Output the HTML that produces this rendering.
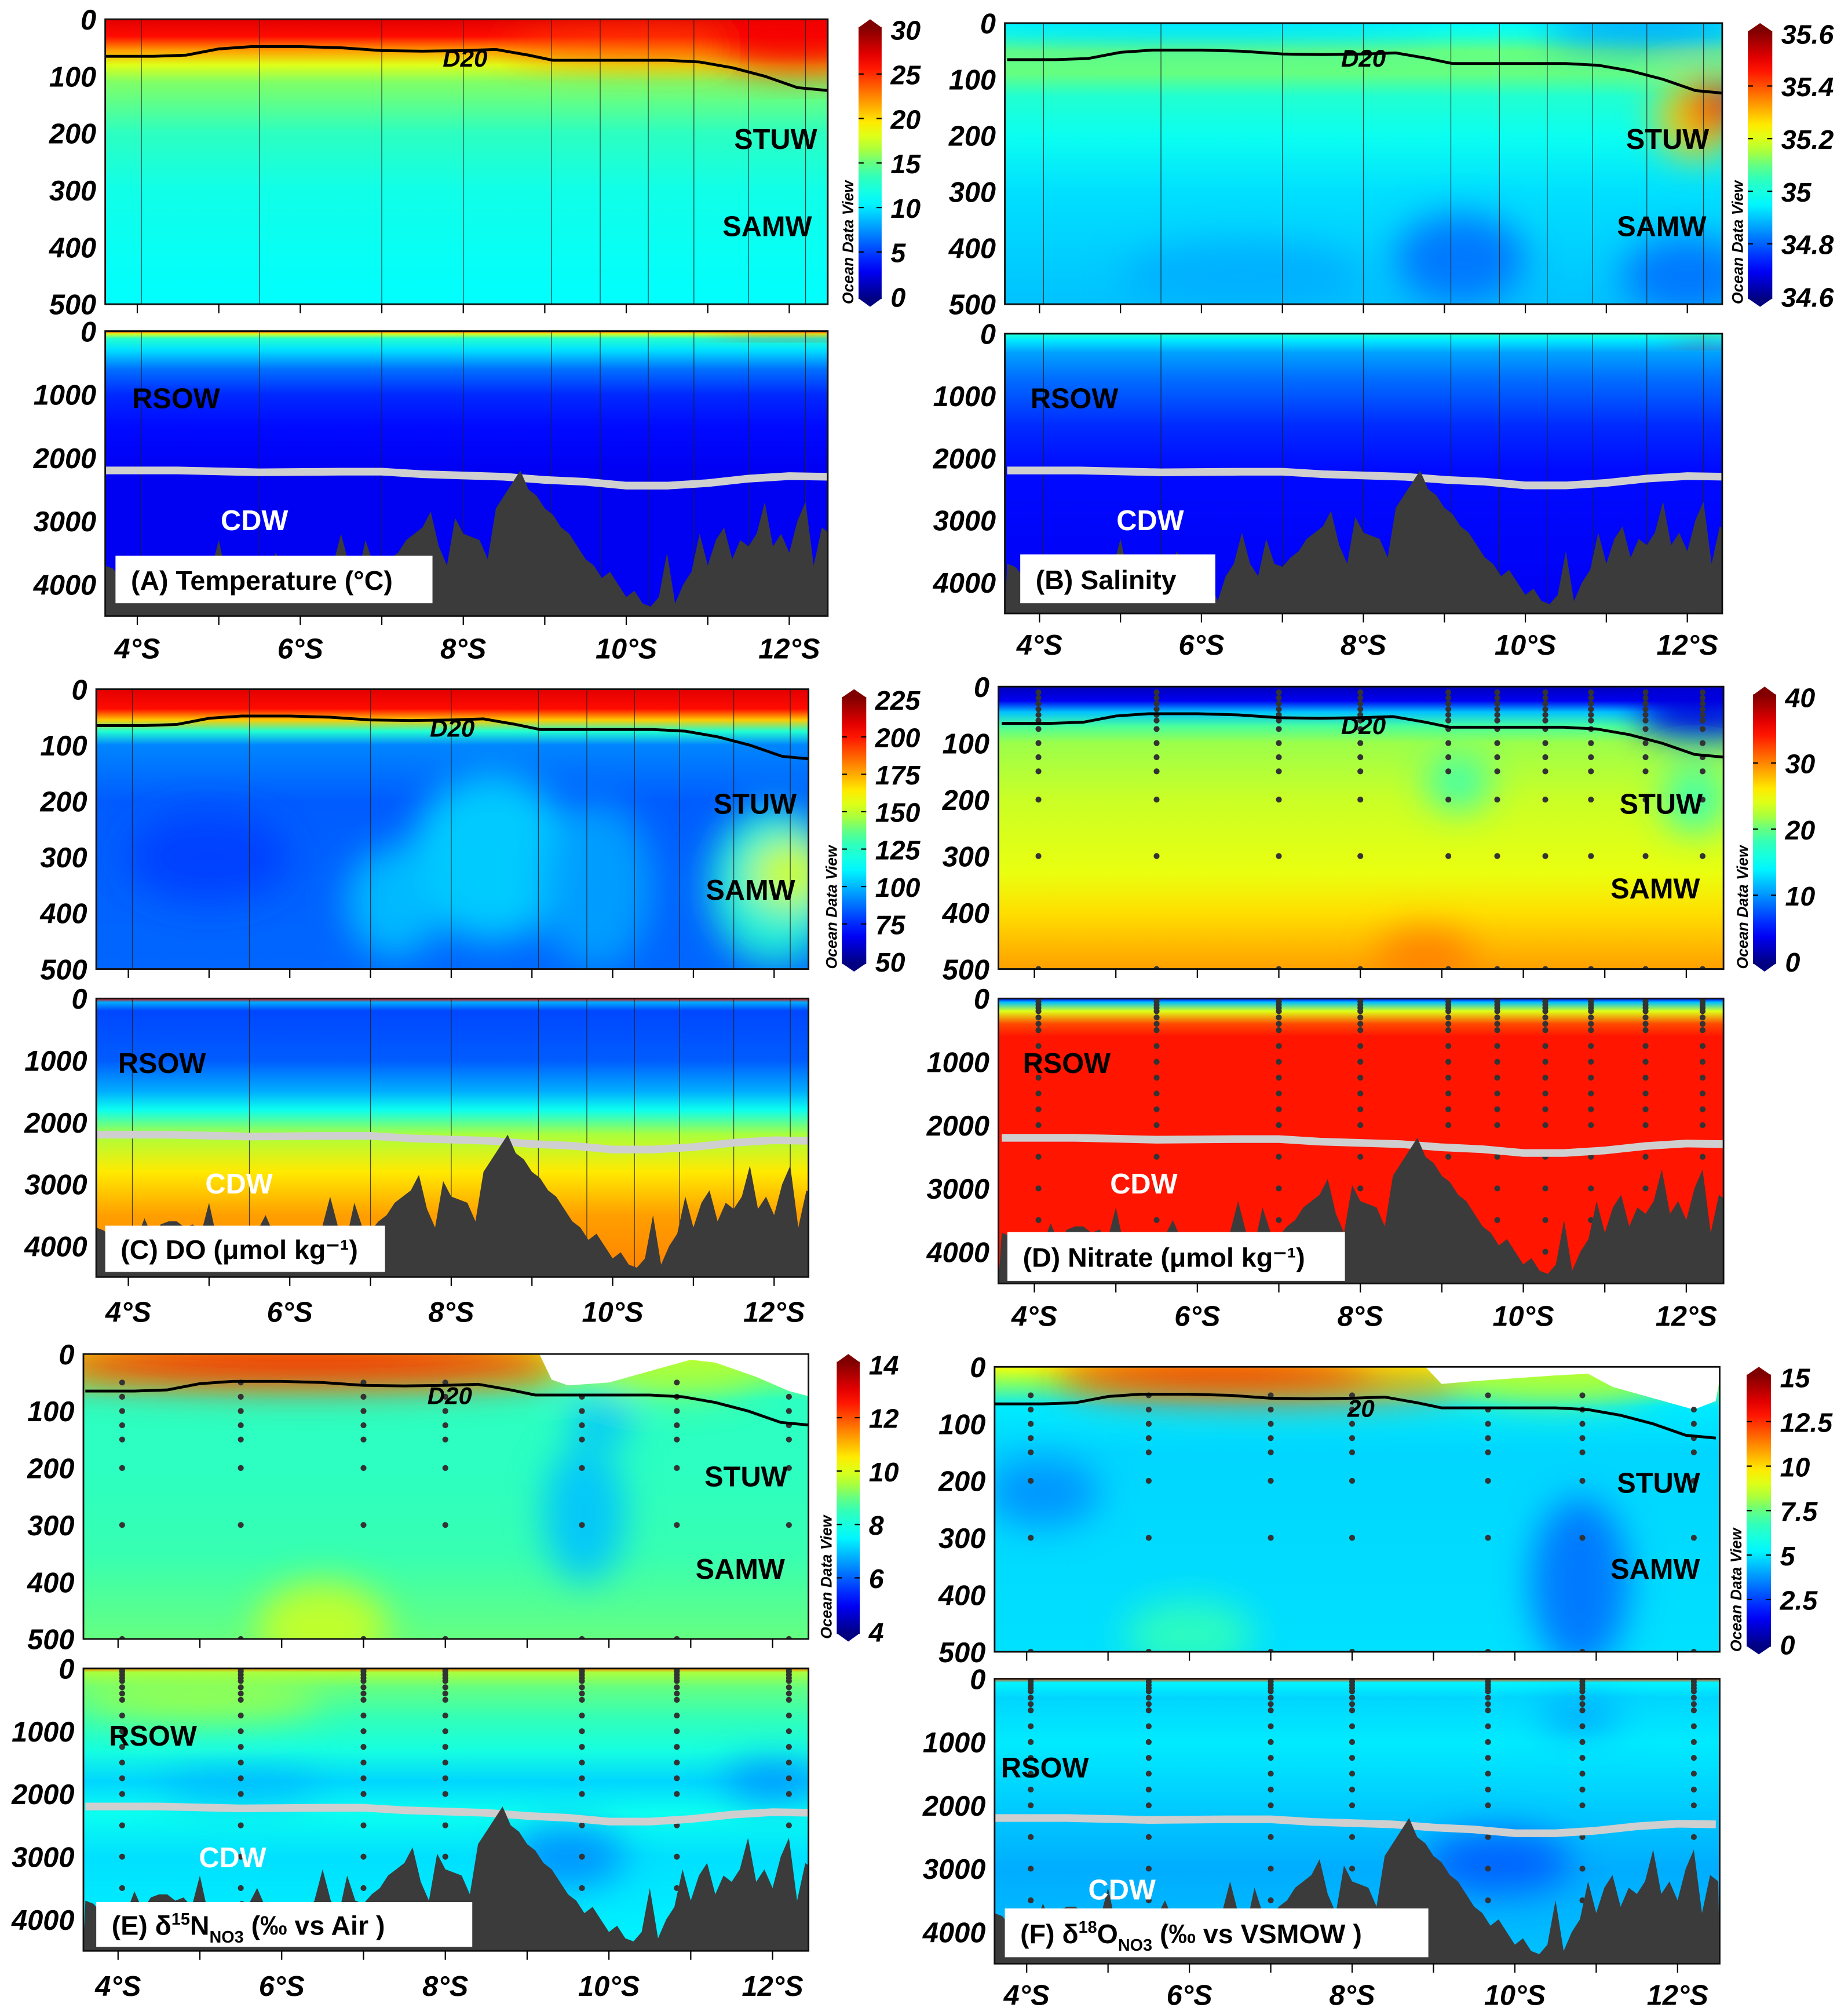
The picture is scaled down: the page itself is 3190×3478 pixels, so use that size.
<!DOCTYPE html>
<html><head><meta charset="utf-8">
<style>
html,body{margin:0;padding:0;background:#fff;}
svg{display:block;}
text{font-family:"Liberation Sans",sans-serif;}
</style></head>
<body>
<svg id="fig" xmlns="http://www.w3.org/2000/svg" width="3190" height="3478" viewBox="0 0 1440 1570" preserveAspectRatio="none">
<defs id="defs">
<filter id="blur" x="-50%" y="-50%" width="200%" height="200%"><feGaussianBlur stdDeviation="14"/></filter>
</defs>
</svg>
<script>
// ---------- data ----------
const stationLats = [4.05,5.5,7.0,8.0,9.08,9.68,10.27,10.83,11.5,12.2];
const isoStationLats = [4.05,5.5,7.0,8.0,9.67,10.83,12.2];
const d20Lats = [3.6,4.2,4.6,5.0,5.4,6.0,6.5,7.0,7.5,8.0,8.4,8.8,9.1,9.5,10.0,10.5,10.9,11.3,11.7,12.1,12.47];
const d20Depths = [65,65,63,52,48,48,50,55,56,55,53,63,72,72,72,72,75,85,100,120,125];
const cdwLats = [3.6,4.5,5.5,6.5,7.0,7.5,8.5,9.0,9.5,10.0,10.5,11.0,11.5,12.0,12.47];
const cdwDepths = [2200,2200,2230,2220,2220,2260,2300,2350,2380,2440,2440,2400,2330,2290,2300];
const bathyStart = 3.6;
const bathyStep = 0.1;
const bathyDepths = [3700,3750,3900,4000,3950,3900,3550,3850,3650,3600,3600,3700,3650,3800,3300,3900,3850,3950,4100,3700,
3750,3500,3800,3900,3850,3950,4300,3900,3700,3200,3700,3900,3300,3700,3750,3600,3500,3300,3200,3100,
2850,3400,3700,2950,3200,3250,3300,3600,2800,2600,2400,2200,2500,2600,2800,2900,3100,3200,3400,3600,
3700,3900,3800,4000,4200,4100,4300,4350,4200,3500,4300,4000,3800,3200,3700,3300,3100,3600,3300,3400,
3200,2700,3400,3200,3500,3000,2700,3700,3100,3200];
const surfLatsE = [9.15,9.3,9.5,10.0,10.5,11.0,11.3,11.8,12.2,12.47];
const surfDepthsE = [0,45,55,50,30,10,15,40,65,75];
const surfLatsF = [8.9,9.1,9.5,10.0,10.5,10.9,11.2,11.7,12.2,12.47];
const surfDepthsF = [0,30,25,20,15,12,35,55,75,60];
const upperDepthTicks = [0,100,200,300,400,500];
const lowerDepthTicks = [0,1000,2000,3000,4000];
const latTicks = [4,6,8,10,12];
const cbTempLabels = ["0","5","10","15","20","25","30"];
const cbSalLabels = ["34.6","34.8","35","35.2","35.4","35.6"];
const cbDoLabels = ["50","75","100","125","150","175","200","225"];
const cbNitLabels = ["0","10","20","30","40"];
const cbN15Labels = ["4","6","8","10","12","14"];
const cbO18Labels = ["0","2.5","5","7.5","10","12.5","15"];
const upperDotDepthsD = [10,20,30,40,50,60,75,100,125,150,200,300,500];
const upperDotDepthsIso = [50,75,100,125,150,200,300,500];
const lowerDotDepths = [10,50,100,150,200,300,400,500,750,1000,1250,1500,1750,2000,2500,3000,3500,4000];

// ---------- helpers ----------
const NS='http://www.w3.org/2000/svg';
const svg=document.getElementById('fig');
const defs=document.getElementById('defs');
function mk(tag,attrs,parent){const e=document.createElementNS(NS,tag);for(const k in attrs)e.setAttribute(k,attrs[k]);parent.appendChild(e);return e;}
const JET=[[0,[0,0,128]],[0.11,[0,0,255]],[0.36,[0,255,255]],[0.47,[60,255,170]],[0.55,[170,255,60]],[0.63,[255,255,0]],[0.87,[255,0,0]],[1,[128,0,0]]];
function jet(t){t=Math.max(0,Math.min(1,t));for(let i=1;i<JET.length;i++){if(t<=JET[i][0]){const a=JET[i-1],b=JET[i];const f=(t-a[0])/(b[0]-a[0]);const c=a[1].map((v,j)=>Math.round(v+(b[1][j]-v)*f));return 'rgb('+c.join(',')+')';}}return 'rgb(128,0,0)';}
function bathyAt(lat){const i=Math.round((lat-bathyStart)/bathyStep);return bathyDepths[Math.max(0,Math.min(bathyDepths.length-1,i))];}
let gid=0;
function profileGrad(profile,maxD){const id='g'+(gid++);const g=mk('linearGradient',{id:id,x1:0,y1:0,x2:0,y2:1},defs);profile.forEach(s=>{mk('stop',{offset:(s[0]/maxD),'stop-color':jet(s[1])},g);});return id;}

const panels=[
{key:'a',L:82,R:645,up:[15,237],lo:[258,480],x4:107,ppd:63.5,cbx:669,cbw:18,cbLabels:cbTempLabels,lines:true,dots:null,
 title:'(A) Temperature (°C)',box:[90,433,247,37],stuw:[572,108],samw:[563,176],rsow:[103,310],cdw:[172,405],d20lab:[345,45],xlabY:513,
 upP:[[0,0.9],[30,0.86],[55,0.72],[80,0.6],[110,0.52],[200,0.44],[300,0.39],[500,0.36]],
 upB:[{lat:10.5,d:45,rl:2,rd:25,t:0.8},{lat:12.2,d:40,rl:1.2,rd:50,t:0.88}],
 loP:[[0,0.9],[40,0.6],[120,0.42],[300,0.33],[600,0.22],[1000,0.15],[1500,0.12],[2200,0.1],[4500,0.1]],
 loB:[{lat:12,d:60,rl:1,rd:60,t:0.85}]},
{key:'b',L:783,R:1342,up:[18,237],lo:[260,478],x4:810,ppd:63.1,cbx:1362,cbw:19,cbLabels:cbSalLabels,lines:true,dots:null,
 title:'(B) Salinity',box:[795,432,152,38],stuw:[1267,108],samw:[1260,176],rsow:[803,310],cdw:[870,405],d20lab:[1045,45],xlabY:510,
 upP:[[0,0.36],[20,0.4],[50,0.5],[90,0.5],[130,0.42],[200,0.38],[300,0.33],[500,0.3]],
 upB:[{lat:6,d:5,rl:3,rd:15,t:0.3},{lat:11.5,d:10,rl:1.3,rd:30,t:0.25},{lat:9.2,d:420,rl:0.8,rd:80,t:0.22},{lat:12,d:450,rl:0.8,rd:70,t:0.22},{lat:6.5,d:450,rl:1.5,rd:60,t:0.28},{lat:12.1,d:170,rl:0.5,rd:70,t:0.68},{lat:12.35,d:150,rl:0.35,rd:45,t:0.88}],
 loP:[[0,0.42],[100,0.34],[300,0.27],[700,0.22],[1500,0.15],[2200,0.12],[4500,0.1]],
 loB:[{lat:12.2,d:150,rl:0.4,rd:60,t:0.85}]},
{key:'c',L:75,R:630,up:[537,755],lo:[778,995],x4:100,ppd:62.9,cbx:656,cbw:19,cbLabels:cbDoLabels,lines:true,dots:null,
 title:'(C) DO (μmol kg⁻¹)',box:[82,955,218,36],stuw:[556,626],samw:[550,693],rsow:[92,828],cdw:[160,922],d20lab:[335,567],xlabY:1030,
 upP:[[0,0.9],[35,0.86],[55,0.68],[75,0.42],[100,0.24],[200,0.2],[500,0.21]],
 upB:[{lat:5,d:300,rl:1,rd:80,t:0.17},{lat:8.5,d:300,rl:1,rd:150,t:0.32},{lat:7.3,d:380,rl:0.6,rd:100,t:0.3},{lat:9.8,d:350,rl:0.7,rd:150,t:0.27},{lat:12,d:350,rl:0.8,rd:140,t:0.42},{lat:12.2,d:330,rl:0.5,rd:60,t:0.6}],
 loP:[[0,0.88],[60,0.28],[200,0.18],[1000,0.2],[1500,0.28],[1800,0.38],[2200,0.55],[2800,0.65],[3500,0.72],[4500,0.75]],
 loB:[]},
{key:'d',L:778,R:1343,up:[535,755],lo:[778,1000],x4:806,ppd:63.5,cbx:1366,cbw:18,cbLabels:cbNitLabels,lines:false,dots:stationLats,upDots:upperDotDepthsD,
 title:'(D) Nitrate (μmol kg⁻¹)',box:[785,960,263,38],stuw:[1262,626],samw:[1255,692],rsow:[797,828],cdw:[865,922],d20lab:[1045,565],xlabY:1033,
 upP:[[0,0.05],[25,0.1],[45,0.3],[70,0.48],[100,0.54],[200,0.58],[330,0.61],[400,0.66],[500,0.72]],
 upB:[{lat:12.2,d:40,rl:0.8,rd:60,t:0.08},{lat:9.2,d:170,rl:0.4,rd:50,t:0.45},{lat:12.1,d:200,rl:0.4,rd:60,t:0.45},{lat:8.8,d:480,rl:0.6,rd:50,t:0.75}],
 loP:[[0,0.1],[60,0.3],[200,0.6],[400,0.8],[600,0.85],[4500,0.85]],
 loB:[]},
{key:'e',L:65,R:630,up:[1055,1277],lo:[1300,1520],x4:92,ppd:63.75,cbx:652,cbw:18,cbLabels:cbN15Labels,lines:false,dots:isoStationLats,upDots:upperDotDepthsIso,
 title:'(E) δ15N',box:[75,1482,293,35],stuw:[549,1150],samw:[542,1222],rsow:[85,1352],cdw:[155,1447],d20lab:[333,1087],xlabY:1555,
 surfLats:surfLatsE,surfDepths:surfDepthsE,
 upP:[[0,0.6],[40,0.52],[80,0.44],[200,0.44],[350,0.46],[500,0.5]],
 upB:[{lat:6.3,d:30,rl:3.2,rd:30,t:0.8},{lat:6.3,d:8,rl:3,rd:30,t:0.88},{lat:10.8,d:30,rl:1,rd:40,t:0.55},{lat:9.7,d:280,rl:0.5,rd:120,t:0.3},{lat:9.9,d:120,rl:0.4,rd:40,t:0.3},{lat:6.5,d:480,rl:0.8,rd:80,t:0.58}],
 loP:[[0,0.75],[60,0.55],[300,0.5],[800,0.45],[1300,0.4],[1800,0.32],[2300,0.38],[3000,0.33],[4500,0.35]],
 loB:[{lat:5,d:500,rl:1.5,rd:300,t:0.55},{lat:9.5,d:3000,rl:0.7,rd:500,t:0.25},{lat:12,d:1800,rl:0.6,rd:300,t:0.25},{lat:5.5,d:1900,rl:1,rd:200,t:0.28}]},
{key:'f',L:775,R:1340,up:[1065,1287],lo:[1308,1530],x4:800,ppd:63.4,cbx:1361,cbw:19,cbLabels:cbO18Labels,lines:false,dots:isoStationLats,upDots:upperDotDepthsIso,
 title:'(F) δ18O',box:[783,1487,330,38],stuw:[1260,1155],samw:[1255,1222],rsow:[780,1377],cdw:[848,1472],d20lab:[1050,1097],xlabY:1562,
 surfLats:surfLatsF,surfDepths:surfDepthsF,
 upP:[[0,0.62],[30,0.52],[70,0.34],[150,0.32],[500,0.33]],
 upB:[{lat:7,d:30,rl:2.5,rd:30,t:0.75},{lat:6.3,d:12,rl:2,rd:30,t:0.88},{lat:10.5,d:20,rl:1.2,rd:40,t:0.55},{lat:4.2,d:220,rl:0.7,rd:60,t:0.25},{lat:10.8,d:380,rl:0.6,rd:150,t:0.22},{lat:6,d:470,rl:0.8,rd:60,t:0.45}],
 loP:[[0,0.8],[60,0.35],[300,0.32],[1000,0.34],[2000,0.31],[3000,0.28],[4500,0.3]],
 loB:[{lat:9.8,d:2900,rl:0.9,rd:500,t:0.2},{lat:10.8,d:600,rl:0.5,rd:200,t:0.25}]}
];

panels.forEach((p,pi)=>{
  const xOf=lat=>p.x4+(lat-4)*p.ppd;
  const root=mk('g',{},svg);
  
  
  [['upper',p.up,500,p.upP,p.upB],['lower',p.lo,4500,p.loP,p.loB]].forEach(sec=>{
    const [nm,yr,maxD,prof,blobs]=sec;
    const yOf=d=>yr[0]+d/maxD*(yr[1]-yr[0]);
    const cid='clip'+p.key+nm;
    const cp=mk('clipPath',{id:cid},defs);
    mk('rect',{x:p.L,y:yr[0],width:p.R-p.L,height:yr[1]-yr[0]},cp);
    const g=mk('g',{'clip-path':'url(#'+cid+')'},root);
    
    
    const bg=mk('rect',{x:p.L,y:yr[0],width:p.R-p.L,height:yr[1]-yr[0],fill:'url(#'+profileGrad(prof,maxD)+')'},g);
    
    
    const bl=mk('g',{filter:'url(#blur)'},g);
    blobs.forEach(b=>{
      const el=mk('ellipse',{cx:xOf(b.lat),cy:yOf(b.d),rx:b.rl*p.ppd,ry:b.rd/maxD*(yr[1]-yr[0]),fill:jet(b.t),opacity:0.9},bl);
      
      
    });
    if(nm==='upper'&&p.surfLats){
      let pts=p.surfLats.map((la,i)=>xOf(la)+','+yOf(p.surfDepths[i]));
      pts.push((p.R+2)+','+(yr[0]-2));pts.push(xOf(p.surfLats[0])+','+(yr[0]-2));
      const wp=mk('polygon',{points:pts.join(' '),fill:'#fff'},g);
      
      
    }
    if(p.lines){
      stationLats.forEach(la=>{
        const ln=mk('line',{x1:xOf(la),x2:xOf(la),y1:yr[0],y2:yr[1],stroke:'#222','stroke-width':0.6,opacity:0.8},g);
        
        
      });
    }
    if(p.dots){
      const dd=nm==='upper'?p.upDots:lowerDotDepths;
      p.dots.forEach(la=>{
        dd.forEach(d=>{
          if(nm==='lower'&&d>bathyAt(la)-80)return;
          if(nm==='upper'&&p.surfLats&&la>p.surfLats[0]){let sd=0;for(let i=1;i<p.surfLats.length;i++){if(la<=p.surfLats[i]){const f=(la-p.surfLats[i-1])/(p.surfLats[i]-p.surfLats[i-1]);sd=p.surfDepths[i-1]+f*(p.surfDepths[i]-p.surfDepths[i-1]);break;}}if(d<sd)return;}
          const c=mk('circle',{cx:xOf(la),cy:yOf(d),r:2.3,fill:'#333'},g);
          
          
        });
      });
    }
    if(nm==='upper'){
      const pts=d20Lats.map((la,i)=>xOf(la)+','+yOf(d20Depths[i])).join(' ');
      const pl=mk('polyline',{points:pts,fill:'none',stroke:'#000','stroke-width':2.2},g);
      
      
      const lab=mk('text',{x:p.d20lab[0],y:p.d20lab[1]+7,'font-size':19,'font-weight':'bold','font-style':'italic',fill:'#000'},g);
      lab.textContent=p.key==='f'?'20':'D20';
      
      
    } else {
      const pts=cdwLats.map((la,i)=>xOf(la)+','+yOf(cdwDepths[i])).join(' ');
      const pl=mk('polyline',{points:pts,fill:'none',stroke:'#cfcfcf','stroke-width':6},g);
      
      
      let pts2=[p.L+','+yr[1]];
      bathyDepths.forEach((d,i)=>{const la=bathyStart+i*bathyStep;pts2.push(xOf(la)+','+yOf(d));});
      pts2.push(p.R+','+yr[1]);
      const bp=mk('polygon',{points:pts2.join(' '),fill:'#3b3b3b'},g);
      
      
    }
    const fr=mk('rect',{x:p.L,y:yr[0],width:p.R-p.L,height:yr[1]-yr[0],fill:'none',stroke:'#111','stroke-width':1.3},root);
    
    
    const ticks=nm==='upper'?upperDepthTicks:lowerDepthTicks;
    ticks.forEach(d=>{
      const t=mk('text',{x:p.L-7,y:yOf(d)+8,'font-size':22,'font-weight':'bold','font-style':'italic','text-anchor':'end',fill:'#000'},root);
      t.textContent=String(d);
      
      
    });
    for(let la=4;la<=12;la++){
      const tk=mk('line',{x1:xOf(la),x2:xOf(la),y1:yr[1],y2:yr[1]+7,stroke:'#000','stroke-width':1},root);
      
      
    }
  });
  latTicks.forEach(la=>{
    const t=mk('text',{x:xOf(la),y:p.xlabY,'font-size':22,'font-weight':'bold','font-style':'italic','text-anchor':'middle',fill:'#000'},root);
    t.textContent=la+'°S';
    
    
  });
  const y0=p.up[0],y1=p.up[1]+2,cx=p.cbx,cw=p.cbw;
  const gidc='cb'+p.key;
  const lg=mk('linearGradient',{id:gidc,x1:0,y1:1,x2:0,y2:0},defs);
  for(let i=0;i<=20;i++){mk('stop',{offset:i/20,'stop-color':jet(i/20)},lg);}
  const cb=mk('g',{},root);
  
  
  mk('rect',{x:cx,y:y0+6,width:cw,height:y1-y0-12,fill:'url(#'+gidc+')'},cb);
  mk('polygon',{points:cx+','+(y0+6.5)+' '+(cx+cw/2)+','+y0+' '+(cx+cw)+','+(y0+6.5),fill:jet(1)},cb);
  mk('polygon',{points:cx+','+(y1-6.5)+' '+(cx+cw/2)+','+y1+' '+(cx+cw)+','+(y1-6.5),fill:jet(0)},cb);
  const n=p.cbLabels.length;
  p.cbLabels.forEach((lb,i)=>{
    const yy=(y1-8)-i*((y1-y0-16)/(n-1));
    if(i>0&&i<n-1){mk('line',{x1:cx,x2:cx+4,y1:yy,y2:yy,stroke:'#000','stroke-width':1},cb);mk('line',{x1:cx+cw-4,x2:cx+cw,y1:yy,y2:yy,stroke:'#000','stroke-width':1},cb);}
    const t=mk('text',{x:cx+cw+7,y:yy+8,'font-size':21,'font-weight':'bold','font-style':'italic',fill:'#000'},root);
    t.textContent=lb;
    
    
  });
  const ov=mk('text',{x:0,y:0,'font-size':12,'font-weight':'bold','font-style':'italic',fill:'#000','text-anchor':'start',transform:'translate('+(cx-4)+','+(y1-2)+') rotate(-90)'},root);
  ov.textContent='Ocean Data View';
  
  
  [['STUW',p.stuw,'#000'],['SAMW',p.samw,'#000'],['RSOW',p.rsow,'#000'],['CDW',p.cdw,'#fff']].forEach(w=>{
    const t=mk('text',{x:w[1][0],y:w[1][1]+8,'font-size':22,'font-weight':'bold',fill:w[2]},root);
    t.textContent=w[0];
    
    
  });
  const b=p.box;
  const tb=mk('rect',{x:b[0],y:b[1],width:b[2],height:b[3],fill:'#fff'},root);
  
  
  const tt=mk('text',{x:b[0]+12,y:b[1]+b[3]/2+8,'font-size':21,'font-weight':'bold',fill:'#000'},root);
  
  
  if(p.key==='e'||p.key==='f'){
    const iso=p.key==='e'?['15','N','(‰ vs Air )']:['18','O','(‰ vs VSMOW )'];
    tt.textContent='('+p.key.toUpperCase()+') δ';
    const s1=mk('tspan',{'font-size':13,dy:-8},tt);s1.textContent=iso[0];
    const s2=mk('tspan',{dy:8},tt);s2.textContent=iso[1];
    const s3=mk('tspan',{'font-size':13,dy:6},tt);s3.textContent='NO3';
    const s4=mk('tspan',{dy:-6},tt);s4.textContent=' '+iso[2];
  } else {
    tt.textContent=p.title;
  }
});
</script>
</body></html>
